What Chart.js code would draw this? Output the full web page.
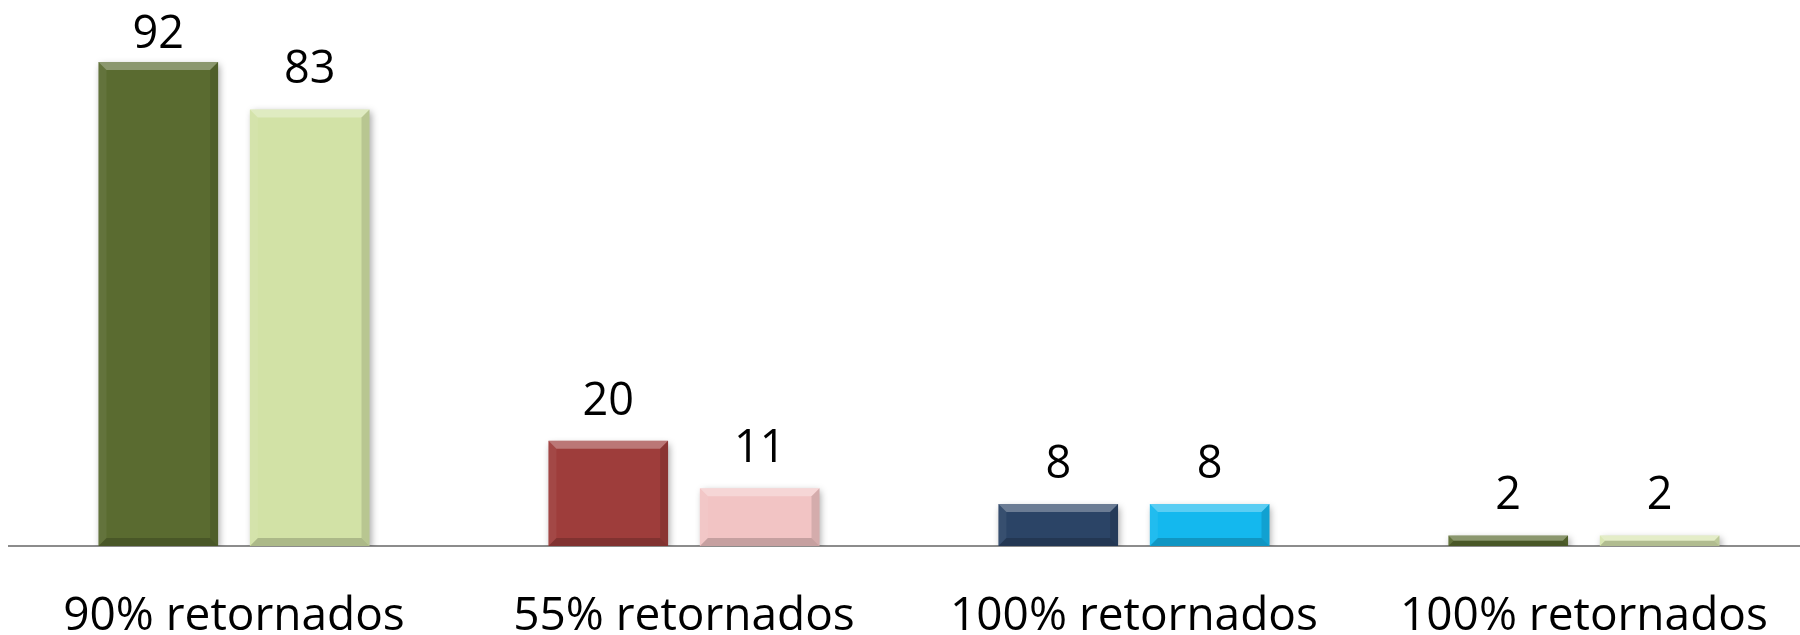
<!DOCTYPE html>
<html>
<head>
<meta charset="utf-8">
<script src="https://cdn.jsdelivr.net/npm/chart.js@4/dist/chart.umd.min.js"></script>
<style>
  html, body { margin: 0; padding: 0; background: #fff; overflow: hidden; }
  #wrap { width: 1816px; height: 635px; position: relative; }
</style>
</head>
<body>
<div id="wrap"><canvas id="chart"></canvas></div>
<script>
const categories = ['90% retornados', '55% retornados', '100% retornados', '100% retornados'];
const firstValues = [92, 20, 8, 2];
const secondValues = [83, 11, 8, 2];
const firstColors = ['#5a6b30', '#9e3d3b', '#2b4466', '#5a6b30'];
const secondColors = ['#d2e2a6', '#f2c4c4', '#14b8ee', '#d8e6b0'];

const bevelAndLabels = {
  id: 'bevelAndLabels',
  beforeDatasetsDraw(chart) {
    const ctx = chart.ctx;
    ctx.save();
    ctx.shadowColor = 'rgba(0,0,0,0.35)';
    ctx.shadowBlur = 7;
    ctx.shadowOffsetX = 2;
    ctx.shadowOffsetY = 3;
  },
  afterDatasetsDraw(chart) {
    const ctx = chart.ctx;
    ctx.restore();
    chart.data.datasets.forEach((ds, di) => {
      chart.getDatasetMeta(di).data.forEach((bar, i) => {
        const w = bar.width;
        const l = bar.x - w / 2, r = bar.x + w / 2;
        const t = bar.y, b = bar.base;
        const s = Math.min(8, (b - t) / 2);
        // top bevel
        ctx.fillStyle = 'rgba(255,255,255,0.3)';
        ctx.beginPath();
        ctx.moveTo(l, t); ctx.lineTo(r, t); ctx.lineTo(r - s, t + s); ctx.lineTo(l + s, t + s);
        ctx.closePath(); ctx.fill();
        // right side
        ctx.fillStyle = 'rgba(0,0,0,0.12)';
        ctx.beginPath();
        ctx.moveTo(r, t); ctx.lineTo(r, b); ctx.lineTo(r - s, b - s); ctx.lineTo(r - s, t + s);
        ctx.closePath(); ctx.fill();
        // left side
        ctx.fillStyle = 'rgba(255,255,255,0.06)';
        ctx.beginPath();
        ctx.moveTo(l, t); ctx.lineTo(l + s, t + s); ctx.lineTo(l + s, b - s); ctx.lineTo(l, b);
        ctx.closePath(); ctx.fill();
        // bottom
        ctx.fillStyle = 'rgba(0,0,0,0.18)';
        ctx.beginPath();
        ctx.moveTo(l, b); ctx.lineTo(l + s, b - s); ctx.lineTo(r - s, b - s); ctx.lineTo(r, b);
        ctx.closePath(); ctx.fill();

        // value label
        ctx.fillStyle = '#000';
        ctx.font = '45px "Open Sans"';
        ctx.textAlign = 'center';
        ctx.textBaseline = 'alphabetic';
        ctx.fillText(String(ds.data[i]), bar.x, Math.max(t - 26, 48));
      });
    });
  }
};

new Chart(document.getElementById('chart'), {
  type: 'bar',
  data: {
    labels: categories,
    datasets: [
      {
        label: 'A',
        data: firstValues,
        backgroundColor: firstColors,
        borderWidth: 0,
        categoryPercentage: 0.673,
        barPercentage: 0.79,
      },
      {
        label: 'B',
        data: secondValues,
        backgroundColor: secondColors,
        borderWidth: 0,
        categoryPercentage: 0.673,
        barPercentage: 0.79,
      },
    ],
  },
  options: {
    responsive: true,
    maintainAspectRatio: false,
    animation: false,
    layout: {
      padding: { left: 9, right: 1, top: 20, bottom: 0 },
    },
    scales: {
      x: {
        grid: { display: false, drawTicks: false },
        border: { display: true, color: '#8c8c8c', width: 2 },
        ticks: {
          color: '#000',
          padding: 48,
          font: { family: 'Open Sans', size: 46, lineHeight: 1 },
          maxRotation: 0,
          autoSkip: false,
        },
        afterFit: (scale) => {
          scale.height = 89;
        },
      },
      y: {
        display: false,
        min: 0,
        max: 100,
      },
    },
    plugins: {
      legend: { display: false },
      tooltip: { enabled: false },
    },
  },
  plugins: [bevelAndLabels],
});
</script>
</body>
</html>
